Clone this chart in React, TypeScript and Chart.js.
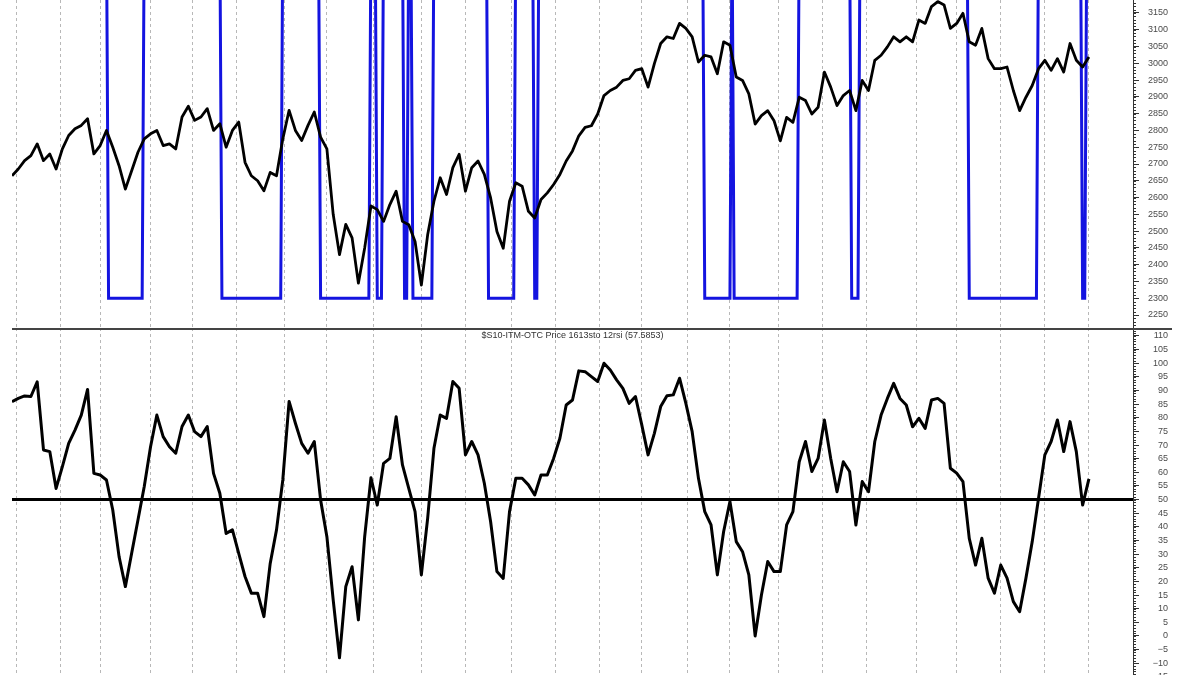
import React, { useEffect, useRef } from "react";
import { Chart, registerables } from "chart.js";

Chart.register(...registerables);

const FONT = 'Arial, "Liberation Sans", sans-serif';

// x axis: trading-day index
const totalDays = 534;
const sampleStepDays = 3;
const monthStartDays = [2, 23, 42, 66, 86, 107, 130, 150, 172, 195, 216, 238, 259, 280, 300, 322, 342, 365, 386, 407, 431, 450, 471, 492, 513];

// price (every 3 trading days)
const priceValues = [
  2665, 2685, 2710, 2725, 2760, 2710, 2730, 2685, 2745, 2785,
  2805, 2815, 2835, 2730, 2755, 2800, 2750, 2695, 2625, 2680,
  2735, 2775, 2790, 2800, 2755, 2760, 2745, 2840, 2872, 2830,
  2840, 2865, 2800, 2820, 2750, 2800, 2825, 2705, 2665, 2650,
  2620, 2675, 2665, 2775, 2860, 2800, 2770, 2815, 2855, 2780,
  2745, 2550, 2430, 2520, 2480, 2345, 2450, 2575, 2564, 2529,
  2579, 2619, 2529, 2519, 2469, 2339, 2489, 2589, 2659, 2609,
  2689, 2729, 2619, 2689, 2709, 2669, 2599, 2499, 2449, 2589,
  2644, 2634, 2559, 2539, 2594, 2614, 2639, 2669, 2709, 2739,
  2784, 2809, 2814, 2849, 2904, 2919, 2929, 2949, 2954, 2979,
  2984, 2929, 2999, 3059, 3079, 3074, 3119, 3104, 3079, 3004,
  3024, 3019, 2969, 3064, 3054, 2959, 2949, 2909, 2819, 2844,
  2859, 2829, 2769, 2839, 2824, 2899, 2889, 2849, 2869, 2974,
  2929, 2874, 2904, 2919, 2859, 2949, 2919, 3009, 3024, 3049,
  3079, 3064, 3079, 3064, 3129, 3119, 3169, 3184, 3174, 3104,
  3119, 3149, 3064, 3054, 3104, 3014, 2984, 2984, 2989, 2919,
  2859, 2899, 2934, 2984, 3009, 2979, 3014, 2974, 3059, 3009,
  2989, 3019,
];

// oscillator (every 3 trading days)
const oscillatorValues = [
  85.9, 87.1, 88.0, 87.8, 93.2, 68.2, 67.6, 54.1, 62.1, 70.6,
  75.5, 81.0, 90.4, 59.6, 59.0, 57.2, 46.2, 29.1, 18.1, 30.3,
  42.5, 54.8, 69.4, 81.0, 73.1, 69.4, 67.0, 76.8, 81.0, 74.9,
  73.1, 76.8, 59.6, 52.3, 37.6, 38.9, 30.3, 21.8, 15.7, 15.7,
  7.1, 26.6, 38.9, 57.2, 86.0, 78.0, 70.6, 67.0, 71.3, 49.9,
  36.4, 13.2, -8.0, 18.1, 25.4, 5.9, 36.4, 58.0, 48.0, 63.3,
  65.1, 80.4, 62.7, 54.1, 45.6, 22.4, 43.1, 68.8, 81.0, 79.8,
  93.3, 90.8, 66.4, 71.3, 66.4, 56.0, 41.9, 23.6, 21.1, 45.6,
  57.8, 57.8, 55.4, 51.7, 59.0, 59.0, 65.1, 72.5, 84.7, 86.5,
  97.2, 96.9, 95.1, 93.3, 100.0, 97.5, 93.9, 90.8, 85.3, 87.8,
  77.4, 66.4, 74.3, 84.1, 88.1, 88.4, 94.5, 85.3, 74.9, 57.8,
  45.6, 40.7, 22.4, 38.3, 49.3, 34.6, 30.9, 22.4, 0.0, 15.0,
  27.3, 23.6, 23.6, 40.7, 45.6, 63.9, 71.3, 60.3, 65.1, 79.2,
  65.1, 52.9, 63.9, 60.3, 40.7, 56.6, 52.9, 71.3, 81.0, 87.1,
  92.6, 87.1, 84.7, 76.7, 79.8, 76.1, 86.5, 87.1, 85.3, 61.5,
  59.7, 56.6, 35.8, 26.0, 35.8, 21.2, 15.7, 26.0, 21.2, 12.6,
  8.9, 21.2, 34.6, 50.5, 66.4, 71.3, 79.2, 67.6, 78.6, 67.6,
  48.0, 57.59,
];

// signal: [first low day, last low day]
const signalOffPeriods: [number, number][] = [
  [46, 62], [100, 128], [147, 170], [174, 176], [187, 188], [191, 200],
  [227, 239], [249, 250], [330, 342], [344, 374], [400, 403], [456, 488], [510, 511],
];
const signalHigh = 3400;
const signalLow = 2300;

const priceTickValues = [2250, 2300, 2350, 2400, 2450, 2500, 2550, 2600, 2650, 2700, 2750, 2800, 2850, 2900, 2950, 3000, 3050, 3100, 3150];
const oscTickValues = [-15, -10, -5, 0, 5, 10, 15, 20, 25, 30, 35, 40, 45, 50, 55, 60, 65, 70, 75, 80, 85, 90, 95, 100, 105, 110];
const oscCenterLevel = 50;
const oscTitle = "$S10-ITM-OTC Price 1613sto 12rsi (57.5853)";

const priceRange = { min: 2211.3, max: 3188.7 };
const oscRange = { min: -23.48, max: 112.92 };

const lastDay = (priceValues.length - 1) * sampleStepDays;

function buildSignal() {
  const pts: { x: number; y: number }[] = [{ x: 0, y: signalHigh }];
  for (const [a, b] of signalOffPeriods) {
    pts.push({ x: a - 1, y: signalHigh }, { x: a, y: signalLow }, { x: b, y: signalLow }, { x: b + 1, y: signalHigh });
  }
  pts.push({ x: lastDay, y: signalHigh });
  return pts;
}

function xScale(): any {
  return {
    type: "linear",
    min: 0,
    max: totalDays,
    ticks: { display: false },
    grid: { color: "#b8b8b8", lineWidth: 1, drawTicks: false },
    border: { display: false, dash: [3, 3] },
    afterBuildTicks: (s: any) => {
      s.ticks = monthStartDays.map((v) => ({ value: v }));
    },
    afterFit: (s: any) => {
      s.height = 0;
      s.paddingLeft = 0;
      s.paddingRight = 0;
    },
  };
}

function yScale(range: { min: number; max: number }, tickValues: number[]): any {
  return {
    position: "right",
    min: range.min,
    max: range.max,
    afterBuildTicks: (s: any) => {
      s.ticks = tickValues.map((v) => ({ value: v }));
    },
    afterFit: (s: any) => {
      s.width = 35;
      s.paddingTop = 0;
      s.paddingBottom = 0;
    },
    ticks: {
      autoSkip: false,
      font: { family: FONT, size: 9 },
      color: "#4a4a4a",
      crossAlign: "far",
      padding: 4,
      callback: (v: any) => String(v).replace("-", "\u2212"),
    },
    grid: { drawOnChartArea: false, drawTicks: true, tickLength: 6, tickColor: "#333", tickWidth: 1 },
    border: { display: true, color: "#333", width: 1 },
  };
}

function minorTicksPlugin(step: number, len: number) {
  return {
    id: "minorTicks",
    afterDraw(chart: any) {
      const s = chart.scales.y;
      const ctx = chart.ctx;
      ctx.save();
      ctx.strokeStyle = "#333";
      ctx.lineWidth = 1;
      const start = Math.ceil(s.min / step) * step;
      for (let v = start; v <= s.max; v += step) {
        const y = Math.round(s.getPixelForValue(v)) + 0.5;
        ctx.beginPath();
        ctx.moveTo(s.left, y);
        ctx.lineTo(s.left + len, y);
        ctx.stroke();
      }
      ctx.restore();
    },
  };
}

const panelTopPlugin = {
  id: "panelTop",
  afterDraw(chart: any) {
    const { ctx, chartArea } = chart;
    ctx.save();
    ctx.strokeStyle = "#444";
    ctx.lineWidth = 2;
    ctx.beginPath();
    ctx.moveTo(chartArea.left, chartArea.top + 1);
    ctx.lineTo(chartArea.right + 39, chartArea.top + 1);
    ctx.stroke();
    ctx.fillStyle = "#333";
    ctx.font = `9px ${FONT}`;
    ctx.textAlign = "center";
    ctx.textBaseline = "middle";
    ctx.fillText(oscTitle, (chartArea.left + chartArea.right) / 2, chartArea.top + 8);
    ctx.restore();
  },
};

export default function App() {
  const topRef = useRef<HTMLCanvasElement>(null);
  const botRef = useRef<HTMLCanvasElement>(null);

  useEffect(() => {
    const common: any = {
      responsive: false,
      animation: false,
      layout: { padding: { left: 12, right: 32, top: 0, bottom: 0 }, autoPadding: false },
      plugins: { legend: { display: false }, tooltip: { enabled: false }, title: { display: false } },
      elements: { point: { radius: 0 }, line: { tension: 0 } },
    };

    const top = new Chart(topRef.current as HTMLCanvasElement, {
      type: "line",
      data: {
        datasets: [
          {
            data: priceValues.map((v, i) => ({ x: i * sampleStepDays, y: v })),
            borderColor: "#000",
            borderWidth: 2.8,
            borderJoinStyle: "round",
            pointRadius: 0,
            fill: false,
          },
          {
            data: buildSignal(),
            borderColor: "#1414e0",
            borderWidth: 3,
            borderJoinStyle: "miter",
            pointRadius: 0,
            fill: false,
          },
        ],
      } as any,
      options: {
        ...common,
        scales: { x: xScale(), y: yScale(priceRange, priceTickValues) },
      },
      plugins: [minorTicksPlugin(10, 3) as any],
    });

    const bot = new Chart(botRef.current as HTMLCanvasElement, {
      type: "line",
      data: {
        datasets: [
          {
            data: oscillatorValues.map((v, i) => ({ x: i * sampleStepDays, y: v })),
            borderColor: "#000",
            borderWidth: 3,
            borderJoinStyle: "round",
            pointRadius: 0,
            fill: false,
          },
          {
            data: [
              { x: 0, y: oscCenterLevel },
              { x: totalDays, y: oscCenterLevel },
            ],
            borderColor: "#000",
            borderWidth: 3,
            pointRadius: 0,
            fill: false,
          },
        ],
      } as any,
      options: {
        ...common,
        scales: { x: xScale(), y: yScale(oscRange, oscTickValues) },
      },
      plugins: [minorTicksPlugin(1, 3) as any, panelTopPlugin as any],
    });

    return () => {
      top.destroy();
      bot.destroy();
    };
  }, []);

  return (
    <div style={{ position: "fixed", left: 0, top: 0, width: 1200, height: 675, overflow: "hidden", background: "#fff" }}>
      <canvas ref={topRef} width={1200} height={328} style={{ position: "absolute", left: 0, top: 0, width: 1200, height: 328 }} />
      <canvas ref={botRef} width={1200} height={372} style={{ position: "absolute", left: 0, top: 328, width: 1200, height: 372 }} />
    </div>
  );
}
